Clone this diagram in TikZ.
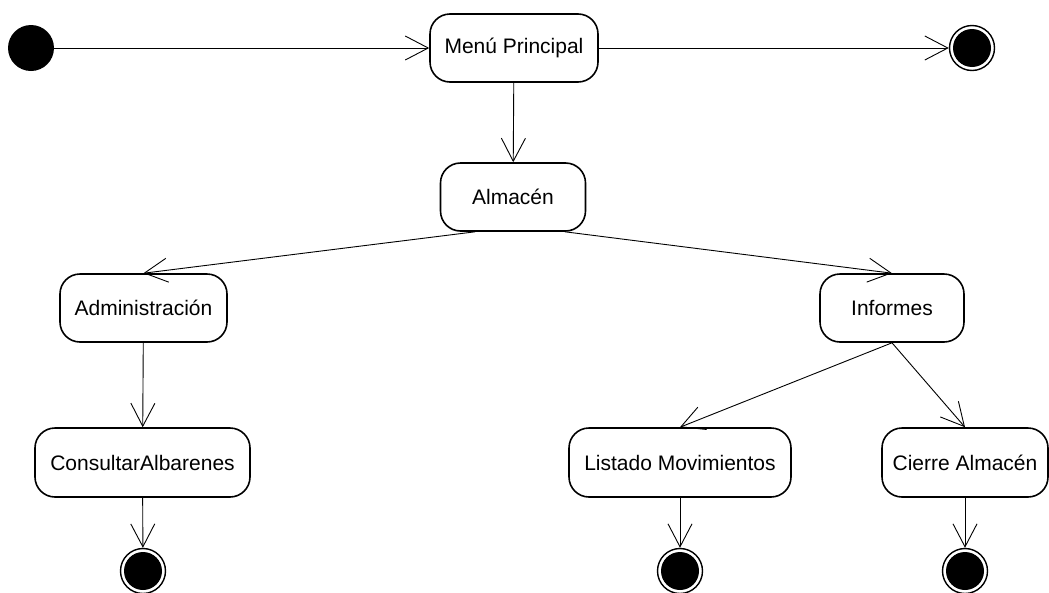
\documentclass[tikz,border=0pt]{standalone}
\usepackage{fontspec}
\setmainfont{Liberation Sans}
\usetikzlibrary{arrows.meta}
\tikzset{
  estado/.style={draw, line width=1.6pt, rounded corners=20pt, minimum height=68pt, inner sep=0pt, font=\fontsize{21}{25}\selectfont},
  inicio/.style={circle, fill=black, minimum size=46pt, inner sep=0pt},
  fin/.style={circle, draw, line width=1.4pt, fill=white, minimum size=45pt, inner sep=0pt,
    path picture={\fill[black] (path picture bounding box.center) circle (19pt);}},
  flecha/.style={-{Straight Barb[length=23pt,width=24pt]}, line width=0.9pt}
}
\begin{document}
\begin{tikzpicture}[x=1pt, y=-1pt, line join=round]
  \useasboundingbox (0,0) rectangle (1049,592);
  % estados
  \node[inicio] (ini) at (31,48) {};
  \node[estado, minimum width=168pt] (menu) at (514,48) {Menú Principal};
  \node[fin] (finmenu) at (972,48) {};
  \node[estado, minimum width=145pt] (alm) at (513,197) {Almacén};
  \node[estado, minimum width=167pt] (admin) at (143.5,308) {Administración};
  \node[estado, minimum width=144pt] (inf) at (892,308) {Informes};
  \node[estado, minimum width=215pt, minimum height=69pt] (cons) at (142.5,462.5) {ConsultarAlbarenes};
  \node[estado, minimum width=222pt, minimum height=69pt] (list) at (680,462.5) {Listado Movimientos};
  \node[estado, minimum width=166pt, minimum height=69pt] (cierre) at (965,462.5) {Cierre Almacén};
  \node[fin] (fincons) at (143,571) {};
  \node[fin] (finlist) at (680,571) {};
  \node[fin] (fincierre) at (965,571) {};
  % transiciones
  \draw[flecha] (ini) -- (menu);
  \draw[flecha] (menu) -- (finmenu);
  \draw[flecha] (menu) -- (alm);
  \draw[flecha] ([xshift=-38pt]alm.south) -- (admin.north);
  \draw[flecha] ([xshift=52pt]alm.south) -- (inf.north);
  \draw[flecha] (admin) -- (cons);
  \draw[flecha] (inf.south) -- (list.north);
  \draw[flecha] (inf.south) -- (cierre.north);
  \draw[flecha] (cons) -- (fincons);
  \draw[flecha] (list) -- (finlist);
  \draw[flecha] (cierre) -- (fincierre);
\end{tikzpicture}
\end{document}
